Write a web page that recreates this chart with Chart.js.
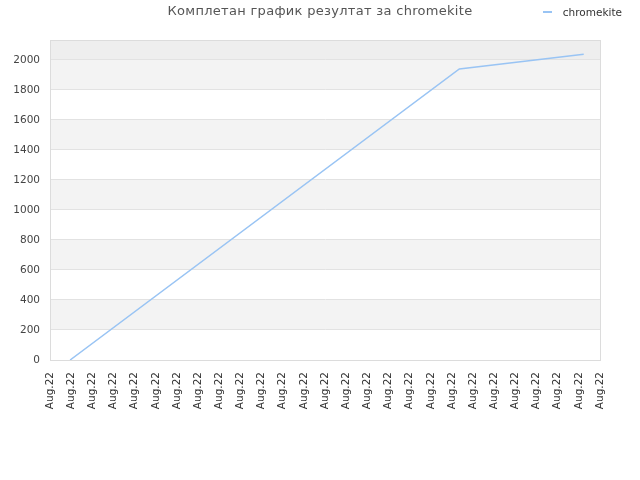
<!DOCTYPE html>
<html>
<head>
<meta charset="utf-8">
<script src="https://cdn.jsdelivr.net/npm/chart.js@4"></script>
<style>
  html, body { margin: 0; padding: 0; background: #fff; }
  #wrap { position: relative; width: 640px; height: 480px; }
  #title { position: absolute; left: 0; width: 640px; top: 3px; text-align: center;
           font: 13px "DejaVu Sans", sans-serif; color: #555; letter-spacing: 0.3px; }
  #legend { position: absolute; right: 18px; top: 6px; font: 10.5px "DejaVu Sans", sans-serif; color: #333;
            display: flex; align-items: center; }
  #legend i { display: inline-block; width: 9px; height: 2px; background: #99c4f4; margin-right: 11px; }
</style>
</head>
<body>
<div id="wrap">
  <canvas id="c" width="640" height="480"></canvas>
  <div id="title">Комплетан график резултат за chromekite</div>
  <div id="legend"><i></i>chromekite</div>
</div>
<script>
// x positions are in "tick units" (0..26) since every tick says Aug.22
const tickLabels = ["Aug.22", "Aug.22", "Aug.22", "Aug.22", "Aug.22", "Aug.22", "Aug.22", "Aug.22", "Aug.22",
  "Aug.22", "Aug.22", "Aug.22", "Aug.22", "Aug.22", "Aug.22", "Aug.22", "Aug.22", "Aug.22",
  "Aug.22", "Aug.22", "Aug.22", "Aug.22", "Aug.22", "Aug.22", "Aug.22", "Aug.22", "Aug.22"];
const pointX = [0.95, 19.35, 25.23];
const scores = [0, 1940, 2038];
const yMax = 2133;

const FONT = { family: "'DejaVu Sans', sans-serif", size: 10.5 };

// alternating bands between y ticks, darker band above the last tick, box round the plot
const bands = {
  id: "bands",
  beforeDraw(chart) {
    const { ctx, chartArea: a, scales: { y } } = chart;
    const ticks = y.ticks;
    ctx.save();
    for (let i = 0; i < ticks.length; i++) {
      const top = i + 1 < ticks.length ? y.getPixelForValue(ticks[i + 1].value) : a.top;
      const bot = y.getPixelForValue(ticks[i].value);
      if (i === ticks.length - 1) ctx.fillStyle = "#eeeeee";
      else ctx.fillStyle = i % 2 ? "#f3f3f3" : "#ffffff";
      ctx.fillRect(a.left, top, a.right - a.left, bot - top);
    }
    ctx.restore();
  },
  afterDraw(chart) {
    const { ctx, chartArea: a } = chart;
    ctx.save();
    ctx.strokeStyle = "#dcdcdc";
    ctx.lineWidth = 1;
    ctx.strokeRect(a.left + 0.5, a.top + 0.5, a.right - a.left, a.bottom - a.top);
    ctx.restore();
  },
};

new Chart(document.getElementById("c"), {
  type: "line",
  data: {
    datasets: [{
      label: "chromekite",
      data: pointX.map((x, i) => ({ x, y: scores[i] })),
      borderColor: "#99c4f4", borderWidth: 1.5, pointRadius: 0, tension: 0, fill: false,
    }],
  },
  options: {
    responsive: false, animation: false,
    layout: { padding: { top: 40, right: 40, left: 0, bottom: 0 } },
    plugins: { legend: { display: false }, title: { display: false }, tooltip: { enabled: false } },
    scales: {
      x: {
        type: "linear", min: 0, max: tickLabels.length - 1,
        afterFit: (s) => { s.height = 120; },
        grid: { display: false },
        border: { color: "#dcdcdc" },
        ticks: {
          stepSize: 1, autoSkip: false, minRotation: 90, maxRotation: 90, padding: 4,
          color: "#333", font: FONT,
          callback: (v) => tickLabels[v] ?? "",
        },
      },
      y: {
        min: 0, max: yMax,
        afterFit: (s) => { s.width = 50; },
        // only the round steps, not the axis max
        afterBuildTicks: (s) => { s.ticks = s.ticks.filter((t) => t.value % 200 === 0); },
        grid: { color: "#e2e2e2", drawTicks: false },
        border: { color: "#dcdcdc" },
        ticks: { stepSize: 200, padding: 10, color: "#444", font: FONT, callback: (v) => String(v) },
      },
    },
  },
  plugins: [bands],
});
</script>
</body>
</html>
